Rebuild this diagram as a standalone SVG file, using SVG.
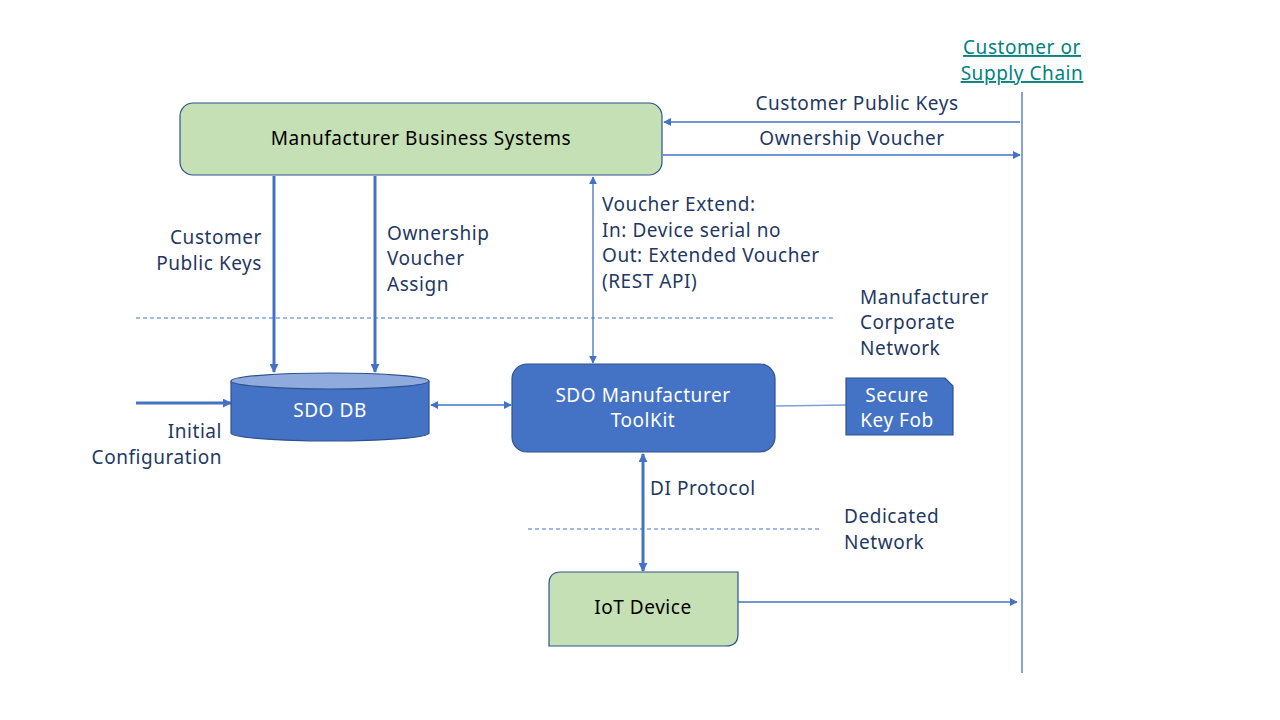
<svg xmlns="http://www.w3.org/2000/svg" width="1280" height="720" viewBox="0 0 1280 720">
<defs>
<style>
text{font-family:"Noto Sans","Open Sans","Liberation Sans",sans-serif;font-size:19px;letter-spacing:0.55px;fill:#1f3864}
.dk{fill:#000}
.wt{fill:#fff}
.mid{text-anchor:middle}
.end{text-anchor:end}
.thin{stroke:#4472c4;stroke-width:1.3;fill:none}
.thick{stroke:#4472c4;stroke-width:3;fill:none}
.dash{stroke:#4472c4;stroke-width:1;stroke-dasharray:4 3;fill:none}
.green{fill:#c5e0b4;stroke:#2f528f;stroke-width:1.2}
.blue{fill:#4472c4;stroke:#2f528f;stroke-width:1.2}
.link{fill:#00827f;text-decoration:underline}
</style>
<marker id="a" viewBox="0 0 10 10" refX="9" refY="5" markerWidth="8" markerHeight="8" markerUnits="userSpaceOnUse" orient="auto-start-reverse"><path d="M0,0 L10,5 L0,10 z" fill="#4472c4"/></marker>
<marker id="b" viewBox="0 0 10 10" refX="9" refY="5" markerWidth="9" markerHeight="9" markerUnits="userSpaceOnUse" orient="auto-start-reverse"><path d="M0,0 L10,5 L0,10 z" fill="#4472c4"/></marker>
</defs>

<g id="connectors">
<line class="thin" x1="1022" y1="92" x2="1022" y2="673"/>
<line class="thin" x1="1020" y1="122" x2="664" y2="122" marker-end="url(#a)"/>
<line class="thin" x1="663" y1="155" x2="1020" y2="155" marker-end="url(#a)"/>
<line class="thick" x1="274" y1="176" x2="274" y2="372" marker-end="url(#b)"/>
<line class="thick" x1="375" y1="176" x2="375" y2="372" marker-end="url(#b)"/>
<line class="thin" x1="593" y1="177" x2="593" y2="363" marker-start="url(#a)" marker-end="url(#a)"/>
<line class="dash" x1="136" y1="318" x2="834" y2="318"/>
<line class="thick" x1="136" y1="403" x2="231" y2="403" marker-end="url(#b)"/>
<line class="thin" x1="431" y1="405" x2="511" y2="405" marker-start="url(#a)" marker-end="url(#a)"/>
<line stroke="#7f9fd6" stroke-width="1.5" x1="776" y1="406" x2="846" y2="405"/>
<line class="thick" x1="643" y1="454" x2="643" y2="571" marker-start="url(#b)" marker-end="url(#b)"/>
<line class="dash" x1="528" y1="529" x2="820" y2="529"/>
<line class="thin" x1="738" y1="602" x2="1017" y2="602" marker-end="url(#a)"/>
</g>

<g id="customer">
<text class="link mid" x="1022" y="54">Customer or</text>
<text class="link mid" x="1022" y="80">Supply Chain</text>
</g>

<g id="labels">
<text class="mid" x="857" y="110">Customer Public Keys</text>
<text class="mid" x="852" y="145">Ownership Voucher</text>
<text class="end" x="262" y="244">Customer</text>
<text class="end" x="262" y="270">Public Keys</text>
<text x="387" y="240">Ownership</text>
<text x="387" y="265">Voucher</text>
<text x="387" y="291">Assign</text>
<text x="602" y="211">Voucher Extend:</text>
<text x="602" y="237">In: Device serial no</text>
<text x="602" y="262">Out: Extended Voucher</text>
<text x="602" y="288">(REST API)</text>
<text x="860" y="304">Manufacturer</text>
<text x="860" y="329">Corporate</text>
<text x="860" y="355">Network</text>
<text class="end" x="222" y="438">Initial</text>
<text class="end" x="222" y="464">Configuration</text>
<text x="650" y="495">DI Protocol</text>
<text x="844" y="523">Dedicated</text>
<text x="844" y="549">Network</text>
</g>

<g id="mbs">
<rect class="green" x="180" y="103" width="482" height="72" rx="13"/>
<text class="dk mid" x="421" y="145">Manufacturer Business Systems</text>
</g>

<g id="sdodb">
<path class="blue" d="M231,381 L231,433 A99,8 0 0 0 429,433 L429,381"/>
<ellipse cx="330" cy="381" rx="99" ry="8" fill="#8faadc" stroke="#2f528f" stroke-width="1.2"/>
<text class="wt mid" x="330" y="417">SDO DB</text>
</g>

<g id="toolkit">
<rect class="blue" x="512" y="364" width="263" height="88" rx="15"/>
<text class="wt mid" x="643" y="402">SDO Manufacturer</text>
<text class="wt mid" x="643" y="427">ToolKit</text>
</g>

<g id="keyfob">
<path class="blue" d="M846,378 L945,378 L953,386 L953,435 L846,435 Z"/>
<text class="wt mid" x="897" y="402">Secure</text>
<text class="wt mid" x="897" y="427">Key Fob</text>
</g>

<g id="iot">
<path class="green" d="M561,572 L738,572 L738,634 Q738,646 726,646 L549,646 L549,584 Q549,572 561,572 Z"/>
<text class="dk mid" x="643" y="614">IoT Device</text>
</g>
</svg>
